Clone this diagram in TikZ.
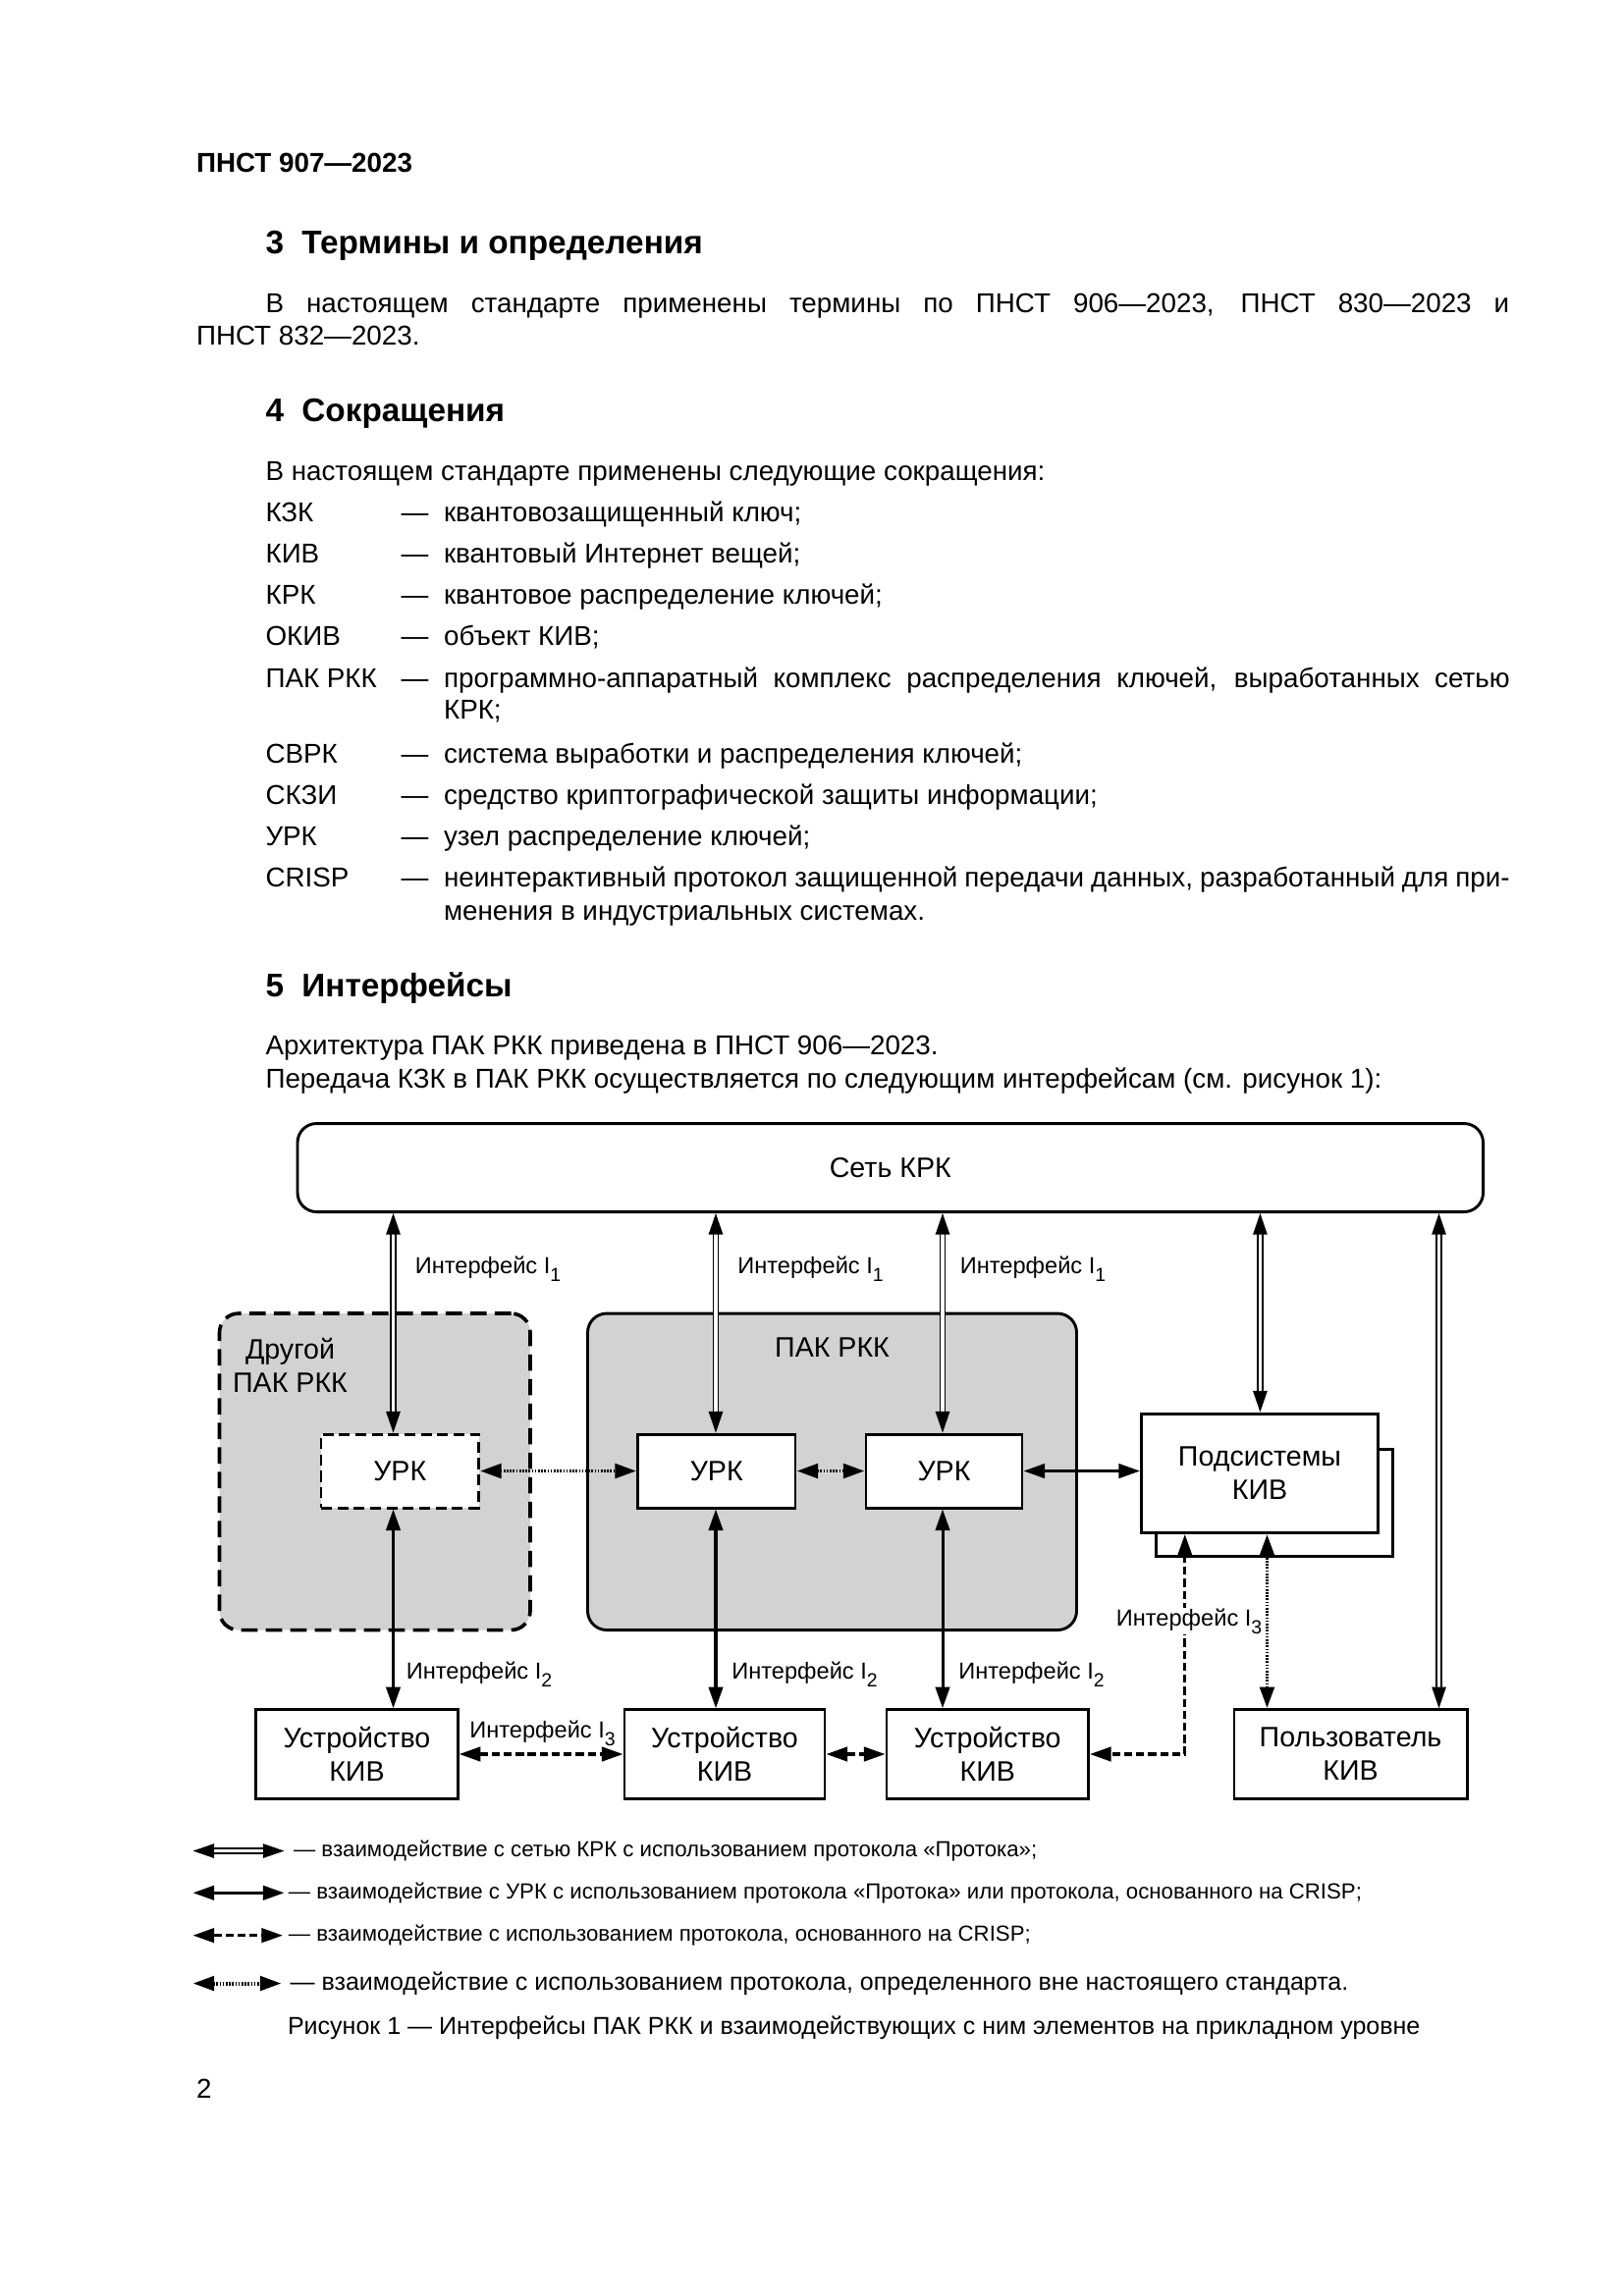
\documentclass[tikz,border=0pt]{standalone}
\usepackage{fontspec}
\setmainfont{Liberation Sans}
\usetikzlibrary{arrows.meta,calc}
\newcommand{\sbs}[1]{\raisebox{-2.8pt}{\fontsize{7}{8}\selectfont #1}}
\begin{document}
\begin{tikzpicture}[x=0.54pt,y=-0.54pt,
  >={Triangle[length=7.8pt,width=5.2pt]},
  txt/.style={inner sep=0pt, anchor=base west, font=\fontsize{10}{12}\selectfont},
  hd/.style={inner sep=0pt, anchor=base west, font=\fontsize{12}{14}\selectfont\bfseries},
  sz/.style 2 args={minimum width={#1*0.54pt},minimum height={#2*0.54pt}},
  box/.style={draw, line width=1.05pt, fill=white, inner sep=0pt, align=center, font=\fontsize{10.3}{12.3}\selectfont},
  boxd/.style={box, dash pattern=on 4pt off 2pt},
  grp/.style={draw, line width=1.05pt, fill=gray!35, rounded corners=7pt, inner sep=0pt},
  grpdash/.style={grp, dash pattern=on 6pt off 3pt, line width=1.3pt},
  lbl/.style={inner sep=0pt, font=\fontsize{10.3}{12.3}\selectfont, align=center},
  ilbl/.style={inner sep=0.3pt, anchor=west, font=\fontsize{8.5}{10}\selectfont},
  dbl/.style={<->, double, double distance=1.3pt, line width=0.55pt},
  sol/.style={<->, line width=1.1pt},
  dsh/.style={<->, line width=1.1pt, dash pattern=on 3pt off 1.4pt},
  dtt/.style={<->, line width=1.4pt, dash pattern=on 0.6pt off 0.55pt},
  lgt/.style={inner sep=0pt, anchor=west, font=\fontsize{8}{10}\selectfont}
]
\useasboundingbox[fill=white] (0,0) rectangle (1102.6,1559.3);

% ---------- text ----------
\node[txt, font=\fontsize{10}{12}\selectfont\bfseries] (hdr) at (133,117) {ПНСТ 907—2023};
\node[hd] (h3) at (180,172) {3\hspace{0.55em}Термины и определения};
\node[txt] (p1) at (180,212) {\makebox[456pt][s]{В настоящем стандарте применены термины по ПНСТ 906—2023, ПНСТ 830—2023 и}};
\node[txt] (p2) at (133,234) {ПНСТ 832—2023.};
\node[hd] (h4) at (180,286) {4\hspace{0.55em}Сокращения};
\node[txt] (p3) at (180,326) {В настоящем стандарте применены следующие сокращения:};

\node[txt] (a1) at (180,354) {КЗК};     \node[txt] (d1) at (272,354) {—}; \node[txt] (t1) at (301,354) {квантовозащищенный ключ;};
\node[txt] (a2) at (180,382) {КИВ};     \node[txt] (d2) at (272,382) {—}; \node[txt] (t2) at (301,382) {квантовый Интернет вещей;};
\node[txt] (a3) at (180,410) {КРК};     \node[txt] (d3) at (272,410) {—}; \node[txt] (t3) at (301,410) {квантовое распределение ключей;};
\node[txt] (a4) at (180,438) {ОКИВ};    \node[txt] (d4) at (272,438) {—}; \node[txt] (t4) at (301,438) {объект КИВ;};
\node[txt] (a5) at (180,467) {ПАК РКК}; \node[txt] (d5) at (272,467) {—}; \node[txt] (t5) at (301,467) {\makebox[390.8pt][s]{программно-аппаратный комплекс распределения ключей, выработанных сетью}};
\node[txt] (t5b) at (301,488) {КРК;};
\node[txt] (a6) at (180,518) {СВРК};    \node[txt] (d6) at (272,518) {—}; \node[txt] (t6) at (301,518) {система выработки и распределения ключей;};
\node[txt] (a7) at (180,546) {СКЗИ};    \node[txt] (d7) at (272,546) {—}; \node[txt] (t7) at (301,546) {средство криптографической защиты информации;};
\node[txt] (a8) at (180,574) {УРК};     \node[txt] (d8) at (272,574) {—}; \node[txt] (t8) at (301,574) {узел распределение ключей;};
\node[txt] (a9) at (180,602) {CRISP};   \node[txt] (d9) at (272,602) {—}; \node[txt] (t9) at (301,602) {\makebox[390.8pt][s]{неинтерактивный протокол защищенной передачи данных, разработанный для при-}};
\node[txt] (t9b) at (301,625) {менения в индустриальных системах.};

\node[hd] (h5) at (180,677) {5\hspace{0.55em}Интерфейсы};
\node[txt] (p4) at (180,716) {Архитектура ПАК РКК приведена в ПНСТ 906—2023.};
\node[txt] (p5) at (180,739) {Передача КЗК в ПАК РКК осуществляется по следующим интерфейсам (см. рисунок 1):};

% ---------- diagram ----------
\node[box, rounded corners=7pt, sz={805}{60}] (net) at (604.5,793) {Сеть КРК};
\node[grpdash, sz={211}{215}] (other) at (254.5,999.5) {};
\node[grp, sz={332}{215}] (pak) at (565,999.5) {};
\node[lbl] (othertxt) at (197,927) {Другой\\ПАК РКК};
\node[lbl] (paktxt) at (565,915) {ПАК РКК};
\node[boxd, sz={107}{50}] (urk0) at (271.5,999) {УРК};
\node[box, sz={107}{50}] (urk1) at (486.5,999) {УРК};
\node[box, sz={106}{50}] (urk2) at (641,999) {УРК};
\node[box, sz={160.5}{73}] (subsh) at (865.2,1020.5) {};
\node[box, sz={160.6}{81}] (sub) at (855.3,1000.5) {Подсистемы\\КИВ};
\node[box, sz={137}{60.5}] (dev1) at (242.3,1191.3) {Устройство\\КИВ};
\node[box, sz={136}{60.5}] (dev2) at (492,1191.3) {Устройство\\КИВ};
\node[box, sz={137}{60.5}] (dev3) at (670.5,1191.3) {Устройство\\КИВ};
\node[box, sz={158}{60.5}] (user) at (917,1191.3) {Пользователь\\КИВ};

\coordinate (x0) at (267,0);
\coordinate (x1) at (486,0);
\coordinate (x2) at (640,0);
\coordinate (xs) at (855.6,0);
\coordinate (xu) at (977,0);
\coordinate (xd) at (804.5,0);
\coordinate (xt) at (860.3,0);

\draw[dbl] (net.south -| x0) -- (urk0.north -| x0);
\draw[dbl] (net.south -| x1) -- (urk1.north -| x1);
\draw[dbl] (net.south -| x2) -- (urk2.north -| x2);
\draw[dbl] (net.south -| xs) -- (sub.north -| xs);
\draw[dbl] (net.south -| xu) -- (user.north -| xu);

\draw[dtt] (urk0.east) -- (urk1.west);
\draw[dtt] (urk1.east) -- (urk2.west);
\draw[sol] (urk2.east) -- (sub.west |- urk2.east);

\draw[sol] (urk0.south -| x0) -- (dev1.north -| x0);
\draw[sol] (urk1.south -| x1) -- (dev2.north -| x1);
\draw[sol] (urk2.south -| x2) -- (dev3.north -| x2);

\draw[dsh] (dev1.east) -- (dev2.west);
\draw[dsh] (dev2.east) -- (dev3.west);
\draw[dsh] (sub.south -| xd) -- (xd |- dev3.east) -- (dev3.east);
\draw[dtt] (sub.south -| xt) -- (user.north -| xt);

\node[ilbl] (i1a) at (281,862) {Интерфейс I\sbs{1}};
\node[ilbl] (i1b) at (500,862) {Интерфейс I\sbs{1}};
\node[ilbl] (i1c) at (651,862) {Интерфейс I\sbs{1}};
\node[ilbl] (i2a) at (275,1137) {Интерфейс I\sbs{2}};
\node[ilbl] (i2b) at (496,1137) {Интерфейс I\sbs{2}};
\node[ilbl] (i2c) at (650,1137) {Интерфейс I\sbs{2}};
\node[ilbl] (i3a) at (318,1177) {Интерфейс I\sbs{3}};
\node[ilbl, fill=white] (i3b) at (757,1101) {Интерфейс I\sbs{3}};

% ---------- legend ----------
\coordinate (g1a) at (131,1257); \coordinate (g1b) at (193,1257);
\coordinate (g2a) at (131,1285.5); \coordinate (g2b) at (193,1285.5);
\coordinate (g3a) at (131,1314.4); \coordinate (g3b) at (192,1314.4);
\coordinate (g4a) at (131,1347); \coordinate (g4b) at (191,1347);
\draw[dbl] (g1a) -- (g1b);
\draw[sol] (g2a) -- (g2b);
\draw[dsh] (g3a) -- (g3b);
\draw[dtt] (g4a) -- (g4b);
\node[lgt] (lg1) at (199,1257) {— взаимодействие с сетью КРК с использованием протокола «Протока»;};
\node[lgt] (lg2) at (195.6,1285.5) {— взаимодействие с УРК с использованием протокола «Протока» или протокола, основанного на CRISP;};
\node[lgt] (lg3) at (195.6,1314.4) {— взаимодействие с использованием протокола, основанного на CRISP;};
\node[lgt, font=\fontsize{9}{11}\selectfont] (lg4) at (196.7,1347) {— взаимодействие с использованием протокола, определенного вне настоящего стандарта.};
\node[inner sep=0pt, anchor=west, font=\fontsize{9}{11}\selectfont] (cap) at (195,1377) {Рисунок 1 — Интерфейсы ПАК РКК и взаимодействующих с ним элементов на прикладном уровне};
\node[txt] (pg) at (133,1425) {2};
\end{tikzpicture}
\end{document}
